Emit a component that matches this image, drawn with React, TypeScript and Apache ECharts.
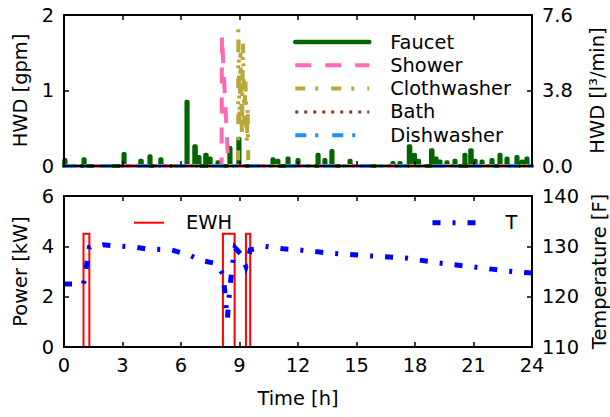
import React, { useEffect, useRef } from "react";
import * as echarts from "echarts";

// ---------- data ----------
const hourMin = 0;
const hourMax = 24;

// Faucet draws: start time [h], flow [gpm], duration [h]
const faucetTimes = [0.05, 1.03, 3.08, 3.95, 4.41, 4.97, 6.31, 6.72, 6.92, 7.28, 7.49, 7.9, 8.51, 8.97,
  10.72, 10.97, 11.49, 12.0, 13.03, 13.38, 13.74, 14.67, 16.87, 17.23, 17.72, 17.97, 18.18, 18.86,
  19.08, 19.28, 19.64, 20.05, 20.56, 20.87, 21.08, 21.44, 21.95, 22.36, 22.72, 23.23, 23.49, 23.74];
const faucetFlows = [0.08, 0.09, 0.16, 0.07, 0.13, 0.09, 0.85, 0.26, 0.12, 0.15, 0.1, 0.05, 0.24, 0.36,
  0.09, 0.07, 0.1, 0.08, 0.15, 0.08, 0.2, 0.07, 0.04, 0.04, 0.26, 0.15, 0.07, 0.21,
  0.1, 0.06, 0.05, 0.07, 0.15, 0.21, 0.07, 0.06, 0.08, 0.15, 0.1, 0.12, 0.06, 0.1];
const faucetDurations = [0.06, 0.06, 0.06, 0.08, 0.06, 0.06, 0.06, 0.08, 0.06, 0.08, 0.06, 0.06, 0.06, 0.06,
  0.06, 0.06, 0.06, 0.06, 0.06, 0.06, 0.06, 0.06, 0.06, 0.06, 0.08, 0.06, 0.06, 0.08,
  0.06, 0.06, 0.06, 0.06, 0.06, 0.08, 0.06, 0.06, 0.06, 0.06, 0.06, 0.06, 0.06, 0.06];

const showerTimes = [0, 8.08, 8.1, 8.38, 8.42, 24];
const showerFlows = [0, 0, 1.73, 0.25, 0, 0];

const clothTimes = [0, 8.93, 8.94, 9.0, 9.05, 9.12, 9.18, 9.25, 9.3, 9.38, 9.42, 9.45, 24];
const clothFlows = [0, 0, 1.83, 0.6, 1.5, 0.4, 1.62, 0.5, 1.2, 0.3, 0.8, 0, 0];

const bathTimes = [0, 24];
const bathFlows = [0, 0];

const dishTimes = [0, 24];
const dishFlows = [0, 0];

// Electric water heater pulses
const ewhOnTimes = [1.0, 8.15, 9.33];
const ewhOffTimes = [1.3, 8.75, 9.55];
const ewhPower = 4.5;

// Tank temperature [F]
const tempTimes = [0, 1.0, 1.15, 1.3, 2.0, 3.7, 4.2, 5.5, 6.4, 7.0, 7.8, 8.15, 8.27, 8.33, 8.38, 8.45,
  8.53, 8.64, 8.77, 9.06, 9.33, 9.55, 10.3, 11.25, 12, 13.8, 15.7, 17.5, 19.2, 21, 22.7, 24];
const tempValues = [122.5, 122.5, 126, 129.8, 130.3, 129.8, 129.5, 129.3, 128.3, 127.2, 126.6, 124.5, 120.3,
  117, 115.6, 119.3, 122.6, 126.3, 129.7, 128.5, 126, 129.3, 130, 129.5, 129.3, 128.6, 128.1, 127.7,
  126.7, 125.9, 125.1, 124.7];

const hwdTicksGpm = { min: 0, max: 2, interval: 1 };
const hwdTicksL = { min: 0, max: 7.6, interval: 3.8 };
const powerTicks = { min: 0, max: 6, interval: 2 };
const tempTicks = { min: 110, max: 140, interval: 10 };

// ---------- builders ----------
const zip = (xs: number[], ys: number[]) => xs.map((x, i) => [x, ys[i]]);

function faucetSeriesData() {
  const out: number[][] = [[hourMin, 0]];
  faucetTimes.forEach((t, i) => {
    const d = faucetDurations[i];
    const a = Math.max(hourMin, t - d / 2);
    const b = t + d / 2;
    out.push([a, 0], [a, faucetFlows[i]], [b, faucetFlows[i]], [b, 0]);
  });
  out.push([hourMax, 0]);
  return out;
}

function ewhSeriesData() {
  const out: number[][] = [[hourMin, 0]];
  ewhOnTimes.forEach((on, i) => {
    const off = ewhOffTimes[i];
    out.push([on, 0], [on, ewhPower], [off, ewhPower], [off, 0]);
  });
  out.push([hourMax, 0]);
  return out;
}

const FONT = "'DejaVu Sans', sans-serif";
const FS = 19.4;
const BLACK = "#000";

const C_FAUCET = "#006400";
const C_SHOWER = "#FF69B4";
const C_CLOTH = "#B8A83A";
const C_BATH = "#8B3510";
const C_DISH = "#1E90FF";
const C_EWH = "#FF0000";
const C_T = "#0000FF";

const D_SHOWER = [16, 14];
const D_CLOTH = [10, 10, 3, 13];
const D_BATH = [3, 6];
const D_DISH = [11, 9, 3, 14];
const D_T = [8, 12, 3, 12];

function xAxisDef(gridIndex: number, position: string, showLabels: boolean, name?: string) {
  return {
    type: "value",
    gridIndex,
    position,
    min: hourMin,
    max: hourMax,
    interval: 3,
    z: 10,
    name: name || "",
    nameLocation: "middle",
    nameGap: 42,
    nameTextStyle: { color: BLACK, fontSize: FS, fontFamily: FONT },
    axisLine: { show: true, onZero: false, lineStyle: { color: BLACK, width: 2 } },
    axisTick: { show: true, inside: true, length: 5, lineStyle: { color: BLACK, width: 1.5 } },
    axisLabel: { show: showLabels, color: BLACK, fontSize: FS, fontFamily: FONT, margin: 9 },
    splitLine: { show: false },
  };
}

function yAxisDef(gridIndex: number, position: string, ticks: any, name: string, nameGap: number, fmt?: (v: number) => string) {
  return {
    type: "value",
    gridIndex,
    position,
    min: ticks.min,
    max: ticks.max,
    interval: ticks.interval,
    z: 10,
    name,
    nameLocation: "middle",
    nameGap,
    nameTextStyle: { color: BLACK, fontSize: FS, fontFamily: FONT },
    axisLine: { show: true, onZero: false, lineStyle: { color: BLACK, width: 2 } },
    axisTick: { show: true, inside: true, length: 5, lineStyle: { color: BLACK, width: 1.5 } },
    axisLabel: { show: true, color: BLACK, fontSize: FS, fontFamily: FONT, margin: 10, formatter: fmt },
    splitLine: { show: false },
  };
}

function lineSeries(name: string, data: number[][], xi: number, yi: number, color: string, width: number, dash: any, extra?: any) {
  return {
    type: "line",
    name,
    data,
    xAxisIndex: xi,
    yAxisIndex: yi,
    symbol: "none",
    showSymbol: false,
    clip: true,
    color,
    lineStyle: { color, width, type: dash, cap: "butt", join: "miter", ...(extra || {}) },
    emphasis: { disabled: true },
  };
}

const legendText = (pad: number) => ({
  color: BLACK,
  fontSize: FS,
  fontFamily: FONT,
  lineHeight: 20,
  padding: [0, 0, 0, pad],
});

export default function App() {
  const ref = useRef<HTMLDivElement>(null);

  useEffect(() => {
    if (!ref.current) return;
    const chart = echarts.init(ref.current, undefined, { renderer: "svg" });
    const option: any = {
      animation: false,
      backgroundColor: "#fff",
      textStyle: { fontFamily: FONT },
      grid: [
        { left: 64, right: 78, top: 15, height: 151, containLabel: false, outerBoundsMode: "none" },
        { left: 64, right: 78, top: 196, height: 151, containLabel: false, outerBoundsMode: "none" },
      ],
      xAxis: [
        xAxisDef(0, "bottom", false),
        xAxisDef(0, "top", false),
        xAxisDef(1, "bottom", true, "Time [h]"),
        xAxisDef(1, "top", false),
      ],
      yAxis: [
        yAxisDef(0, "left", hwdTicksGpm, "HWD [gpm]", 34),
        yAxisDef(0, "right", hwdTicksL, "HWD [l³/min]", 56, (v: number) => v.toFixed(1)),
        yAxisDef(1, "left", powerTicks, "Power [kW]", 34),
        yAxisDef(1, "right", tempTicks, "Temperature [F]", 56),
      ],
      legend: [
        {
          orient: "vertical",
          left: 293,
          top: 32,
          padding: 0,
          itemWidth: 74,
          itemHeight: 10,
          itemGap: 3.3,
          selectedMode: false,
          itemStyle: { opacity: 0 },
          textStyle: legendText(16),
          data: [
            { name: "Faucet", lineStyle: { color: C_FAUCET, width: 4.5, type: "solid" } },
            { name: "Shower", lineStyle: { color: C_SHOWER, width: 4, type: D_SHOWER } },
            { name: "Clothwasher", lineStyle: { color: C_CLOTH, width: 4, type: D_CLOTH } },
            { name: "Bath", lineStyle: { color: C_BATH, width: 3, type: D_BATH } },
            { name: "Dishwasher", lineStyle: { color: C_DISH, width: 4, type: D_DISH } },
          ],
        },
        {
          left: 133,
          top: 212.7,
          padding: 0,
          itemWidth: 30,
          itemHeight: 10,
          selectedMode: false,
          itemStyle: { opacity: 0 },
          textStyle: legendText(17),
          data: [{ name: "EWH", lineStyle: { color: C_EWH, width: 2, type: "solid" } }],
        },
        {
          left: 430,
          top: 212.7,
          padding: 0,
          itemWidth: 43,
          itemHeight: 10,
          selectedMode: false,
          itemStyle: { opacity: 0 },
          textStyle: legendText(25),
          data: [{ name: "T", lineStyle: { color: C_T, width: 5, type: D_T } }],
        },
      ],
      series: [
        lineSeries("Faucet", faucetSeriesData(), 0, 0, C_FAUCET, 4, "solid", { cap: "round", join: "round" }),
        lineSeries("Shower", zip(showerTimes, showerFlows), 0, 0, C_SHOWER, 4, D_SHOWER),
        lineSeries("Clothwasher", zip(clothTimes, clothFlows), 0, 0, C_CLOTH, 4, D_CLOTH),
        lineSeries("Bath", zip(bathTimes, bathFlows), 0, 0, C_BATH, 3, D_BATH),
        lineSeries("Dishwasher", zip(dishTimes, dishFlows), 0, 0, C_DISH, 4, D_DISH),
        lineSeries("EWH", ewhSeriesData(), 2, 2, C_EWH, 2, "solid"),
        lineSeries("T", zip(tempTimes, tempValues), 2, 3, C_T, 5, D_T),
      ],
    };
    chart.setOption(option);
    return () => chart.dispose();
  }, []);

  return (
    <div
      ref={ref}
      style={{ position: "absolute", left: 0, top: 0, width: 610, height: 417, background: "#fff" }}
    />
  );
}
